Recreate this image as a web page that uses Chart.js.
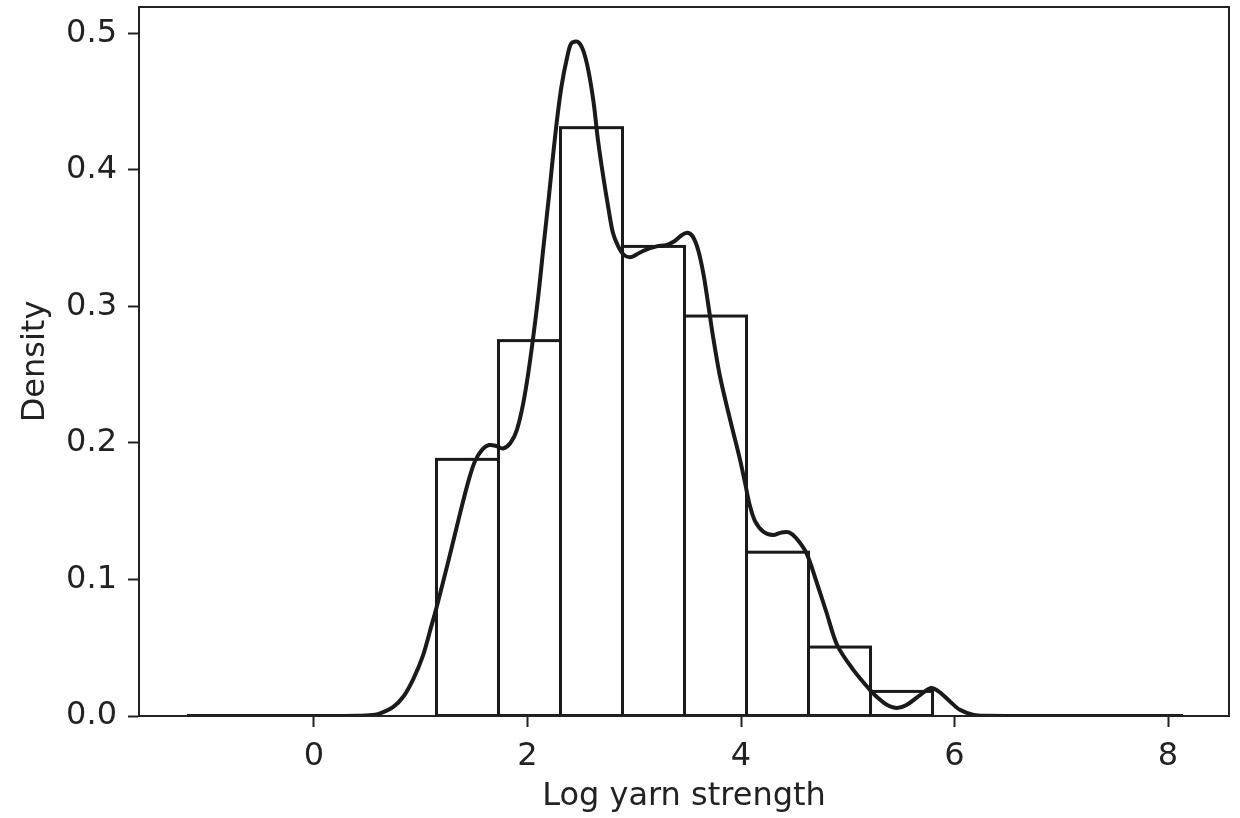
<!DOCTYPE html>
<html>
<head>
<meta charset="utf-8">
<script src="https://cdn.jsdelivr.net/npm/chart.js@4/dist/chart.umd.min.js"></script>
<style>
  html, body { margin: 0; padding: 0; background: #ffffff; }
  #wrap { width: 1240px; height: 818px; }
</style>
</head>
<body>
<div id="wrap"><canvas id="c" width="1240" height="818"></canvas></div>
<script>
// Histogram of log yarn strength (density scale)
const binEdges = [1.1475, 1.7283, 2.3091, 2.8899, 3.4707, 4.0515, 4.6323, 5.2131, 5.7939];
const binDensity = [0.188, 0.275, 0.431, 0.344, 0.293, 0.120, 0.0505, 0.0180];

// Kernel density estimate
const kdeX = [-1.19, 0.00, 0.40, 0.55, 0.62, 0.74, 0.84, 0.93, 1.02, 1.10, 1.15, 1.27, 1.37, 1.45, 1.51, 1.58, 1.64,
  1.70, 1.77, 1.84, 1.90, 1.96, 2.02, 2.10, 2.15, 2.20, 2.24, 2.28, 2.32, 2.37, 2.41, 2.47, 2.52, 2.57, 2.62, 2.66, 2.71,
  2.76, 2.80, 2.85, 2.90, 2.96, 3.02, 3.09, 3.21, 3.30, 3.38, 3.44, 3.50, 3.55, 3.60, 3.65, 3.69, 3.74, 3.80, 3.87, 3.93,
  3.99, 4.04, 4.08, 4.13, 4.21, 4.30, 4.38, 4.45, 4.52, 4.615, 4.70, 4.80, 4.90, 5.05, 5.21, 5.30, 5.37, 5.46, 5.55,
  5.68, 5.78, 5.86, 5.96, 6.05, 6.18, 6.30, 6.50, 8.14];
const kdeY = [0, 0, 0.0002, 0.0008, 0.002, 0.0065, 0.0145, 0.027, 0.044, 0.066, 0.080, 0.117, 0.149, 0.173, 0.187, 0.1955, 0.1985,
  0.198, 0.196, 0.200, 0.2095, 0.229, 0.258, 0.307, 0.344, 0.380, 0.411, 0.439, 0.462, 0.482, 0.4927, 0.494, 0.488, 0.473, 0.449, 0.422, 0.395,
  0.371, 0.354, 0.344, 0.338, 0.336, 0.338, 0.341, 0.344, 0.345, 0.348, 0.352, 0.354, 0.351, 0.341, 0.323, 0.303, 0.277, 0.250, 0.226, 0.207,
  0.188, 0.170, 0.155, 0.143, 0.135, 0.1326, 0.1345, 0.1345, 0.130, 0.119, 0.100, 0.076, 0.052, 0.034, 0.019, 0.012, 0.008, 0.0058, 0.008,
  0.0155, 0.0205, 0.0175, 0.0105, 0.0045, 0.0008, 0.0001, 0, 0];

const xTicks = [0, 2, 4, 6, 8];
const yTicks = [0.0, 0.1, 0.2, 0.3, 0.4, 0.5];

const INK = '#1a1a1a';
const AXIS = '#222222';
const FONT = 'DejaVu Sans';
const FONT_SIZE = 32;

const barData = binDensity.map((h, i) => ({ x: (binEdges[i] + binEdges[i + 1]) / 2, y: h }));
const kdeData = kdeX.map((x, i) => ({ x: x, y: kdeY[i] }));

// Strokes the histogram bars as open rectangles before the curve is drawn
const barOutline = {
  id: 'barOutline',
  beforeDatasetsDraw(chart) {
    const meta = chart.getDatasetMeta(0);
    const ctx = chart.ctx;
    ctx.save();
    ctx.strokeStyle = INK;
    ctx.lineWidth = 3;
    ctx.lineJoin = 'miter';
    meta.data.forEach(el => {
      const p = el.getProps(['x', 'y', 'base', 'width'], true);
      ctx.strokeRect(p.x - p.width / 2, p.y, p.width, p.base - p.y);
    });
    ctx.restore();
  }
};

// Box around the plotting area
const frame = {
  id: 'frame',
  afterDraw(chart) {
    const a = chart.chartArea;
    const ctx = chart.ctx;
    ctx.save();
    ctx.strokeStyle = AXIS;
    ctx.lineWidth = 2;
    ctx.strokeRect(a.left, a.top, a.right - a.left, a.bottom - a.top);
    ctx.restore();
  }
};

// Fixed axis sizes, no extra label overhang padding
function fixSize(prop, val) {
  return s => {
    s[prop] = val;
    s.paddingTop = 0; s.paddingBottom = 0; s.paddingLeft = 0; s.paddingRight = 0;
  };
}

new Chart(document.getElementById('c'), {
  type: 'line',
  data: {
    datasets: [
      {
        type: 'bar',
        data: barData,
        backgroundColor: 'rgba(0,0,0,0)',
        borderWidth: 0,
        barPercentage: 1.0,
        categoryPercentage: 1.0,
        order: 2
      },
      {
        type: 'line',
        data: kdeData,
        borderColor: INK,
        borderWidth: 4,
        pointRadius: 0,
        fill: false,
        tension: 0.3,
        order: 1
      }
    ]
  },
  options: {
    responsive: false,
    devicePixelRatio: 1,
    animation: false,
    layout: { padding: { left: 0, top: 7, right: 11, bottom: 0 } },
    plugins: { legend: { display: false }, tooltip: { enabled: false } },
    scales: {
      x: {
        type: 'linear',
        offset: false,
        min: -1.639,
        max: 8.571,
        afterBuildTicks: s => { s.ticks = xTicks.map(v => ({ value: v })); },
        afterFit: fixSize('height', 102),
        grid: { offset: false, drawOnChartArea: false, drawTicks: true, tickLength: 11, tickWidth: 2, tickColor: AXIS },
        border: { display: true, color: AXIS, width: 2 },
        ticks: { color: AXIS, font: { family: FONT, size: FONT_SIZE }, padding: 10, maxRotation: 0, autoSkip: false,
                 callback: v => String(v) },
        title: { display: true, text: 'Log yarn strength', color: AXIS, font: { family: FONT, size: FONT_SIZE },
                 padding: { top: 0, bottom: 2 } }
      },
      y: {
        type: 'linear',
        min: 0,
        max: 0.5194,
        afterBuildTicks: s => { s.ticks = yTicks.map(v => ({ value: v })); },
        afterFit: fixSize('width', 139),
        grid: { drawOnChartArea: false, drawTicks: true, tickLength: 11, tickWidth: 2, tickColor: AXIS },
        border: { display: true, color: AXIS, width: 2 },
        ticks: { color: AXIS, font: { family: FONT, size: FONT_SIZE }, padding: 11, autoSkip: false,
                 callback: v => Number(v).toFixed(1) },
        title: { display: true, text: 'Density', color: AXIS, font: { family: FONT, size: FONT_SIZE },
                 padding: { top: 16, bottom: 0 } }
      }
    }
  },
  plugins: [barOutline, frame]
});
</script>
</body>
</html>
